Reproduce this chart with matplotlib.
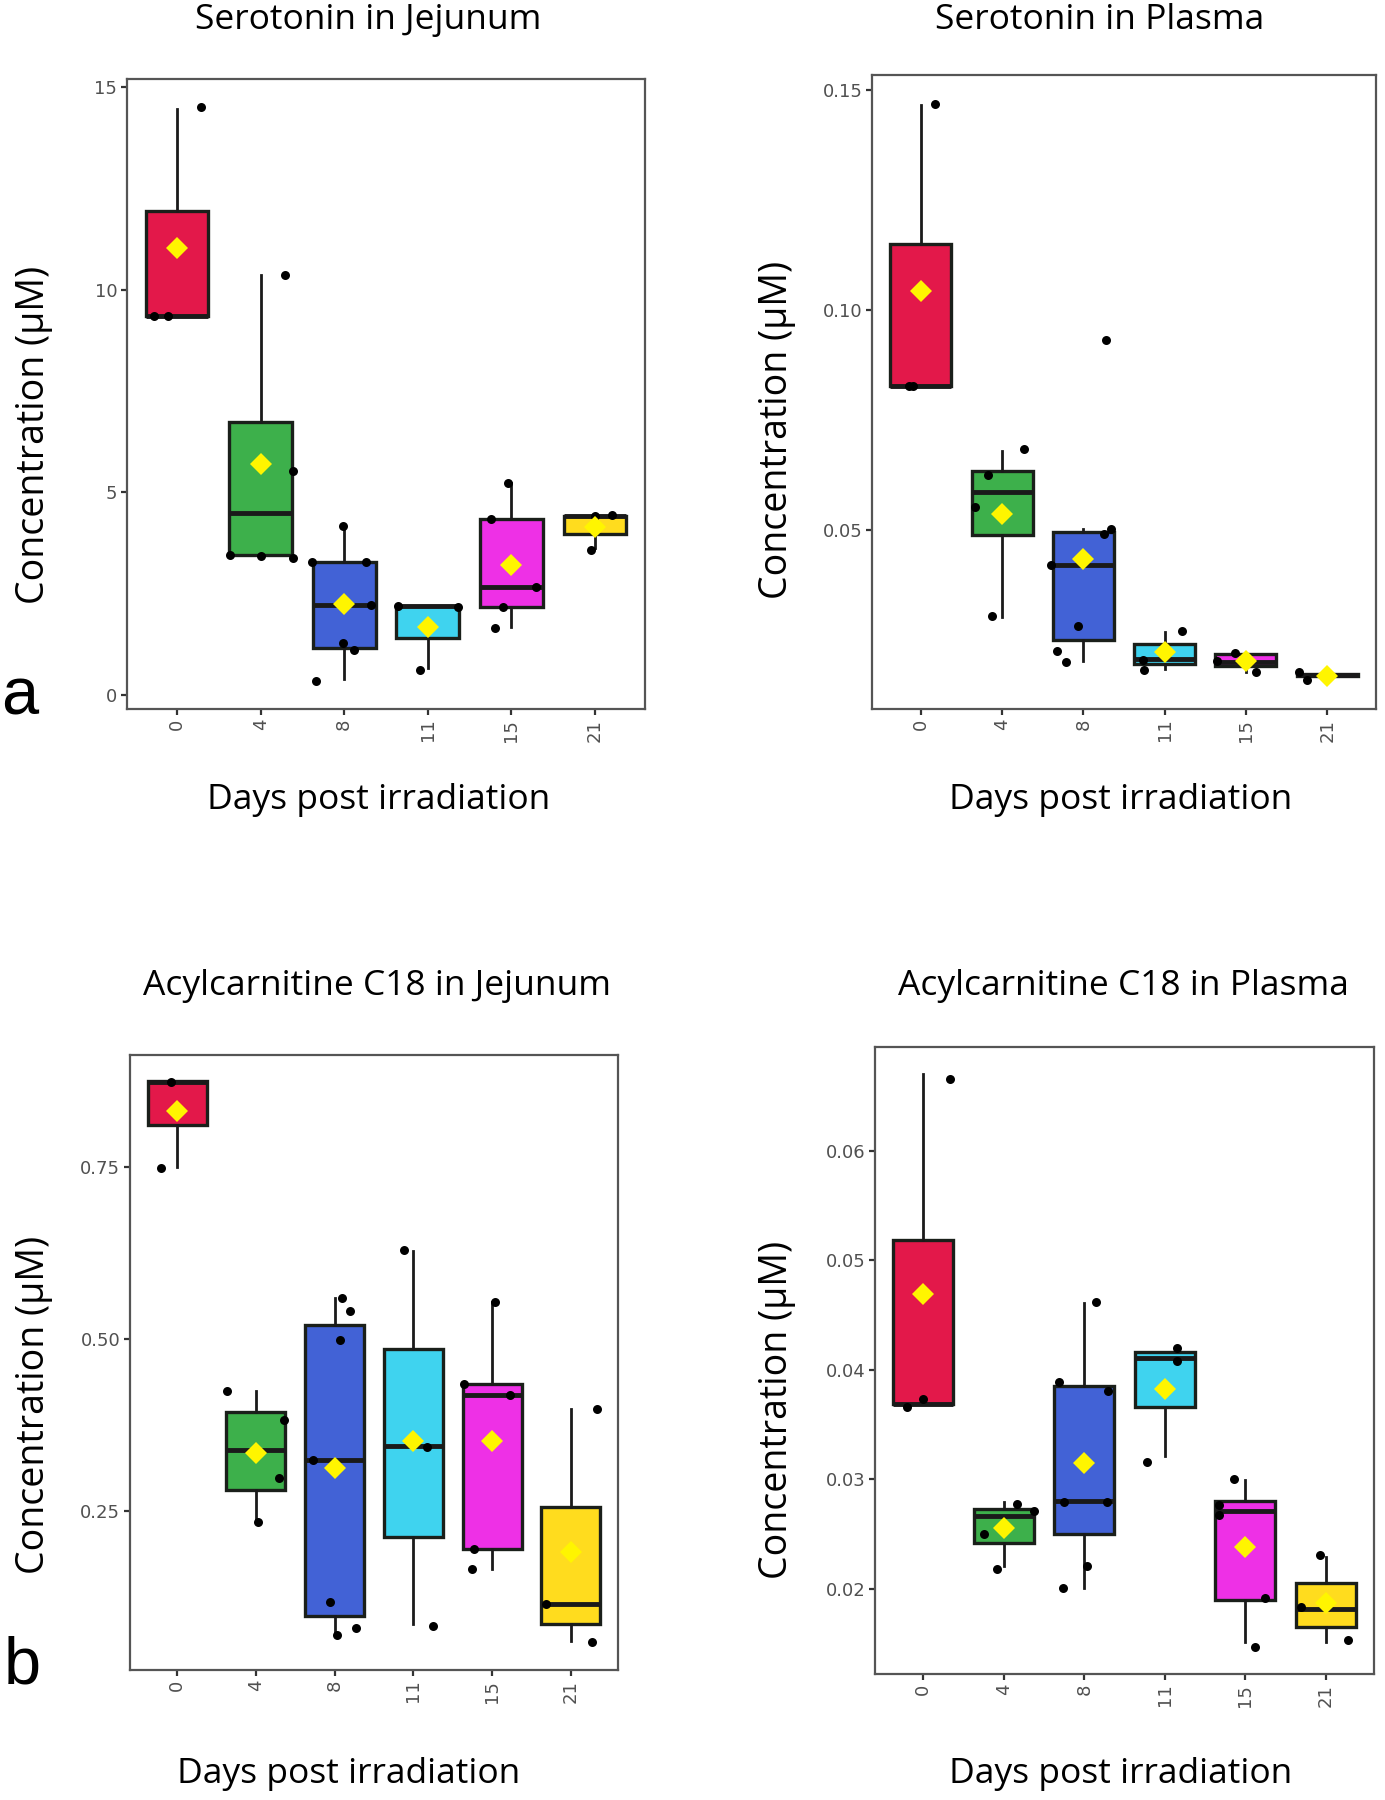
import numpy as np
import matplotlib
matplotlib.use("Agg")
import matplotlib.pyplot as plt

days = ['0', '4', '8', '11', '15', '21']
box_colors = ['#E3184A', '#3DB04B', '#4262D6', '#3FD3EF', '#EE30E6', '#FFDC1E']

# box stats per day: (lower whisker, q1, median, q3, upper whisker)
sero_jej_box = [(9.34, 9.34, 9.34, 11.95, 14.47), (3.40, 3.44, 4.50, 6.74, 10.36),
                (0.39, 1.16, 2.21, 3.27, 4.16), (0.65, 1.40, 2.20, 2.20, 2.20),
                (1.68, 2.17, 2.67, 4.35, 5.23), (3.62, 3.98, 4.42, 4.42, 4.44)]
sero_jej_mean = [11.03, 5.70, 2.24, 1.68, 3.20, 4.13]
sero_jej_pts = [[9.34, 9.34, 14.5], [3.46, 3.42, 3.38, 5.53, 10.37],
                [0.35, 3.27, 3.27, 2.21, 1.29, 1.10, 4.16], [2.20, 2.17, 0.62],
                [4.35, 5.23, 2.67, 2.17, 1.65], [3.57, 4.42, 4.44]]
sero_jej_jit = [[-0.28, -0.11, 0.29], [-0.37, 0.0, 0.39, 0.39, 0.29],
                [-0.335, -0.39, 0.26, 0.32, -0.02, 0.12, -0.02], [-0.36, 0.36, -0.09],
                [-0.245, -0.04, 0.29, -0.1, -0.2], [-0.05, 0.0, 0.21]]

sero_pla_box = [(0.0827, 0.0827, 0.0827, 0.115, 0.1467), (0.0302, 0.0488, 0.0586, 0.0633, 0.0679),
                (0.0202, 0.025, 0.042, 0.0495, 0.0502), (0.0184, 0.0195, 0.0206, 0.0241, 0.0267),
                (0.0176, 0.0191, 0.0200, 0.0218, 0.0219), (0.0168, 0.0168, 0.0170, 0.0172, 0.0172)]
sero_pla_mean = [0.1043, 0.0536, 0.0433, 0.0221, 0.0202, 0.0166]
sero_pla_pts = [[0.0827, 0.0827, 0.147], [0.0683, 0.0624, 0.0552, 0.0304],
                [0.0931, 0.0502, 0.049, 0.0419, 0.028, 0.0223, 0.0199], [0.0269, 0.0204, 0.0180],
                [0.0219, 0.0202, 0.0176], [0.0176, 0.0157]]
sero_pla_jit = [[-0.15, -0.10, 0.18], [0.27, -0.17, -0.33, -0.12],
                [0.28, 0.34, 0.26, -0.40, -0.06, -0.33, -0.21], [0.21, -0.27, -0.25],
                [-0.14, -0.35, 0.12], [-0.35, -0.25]]

acyl_jej_box = [(0.75, 0.8115, 0.873, 0.8746, 0.8746), (0.234, 0.280, 0.339, 0.394, 0.424),
                (0.069, 0.0967, 0.324, 0.520, 0.560), (0.085, 0.212, 0.344, 0.486, 0.628),
                (0.165, 0.195, 0.418, 0.434, 0.554), (0.061, 0.086, 0.114, 0.256, 0.398)]
acyl_jej_mean = [0.8315, 0.334, 0.312, 0.352, 0.352, 0.190]
acyl_jej_pts = [[0.873, 0.748], [0.424, 0.382, 0.297, 0.234],
                [0.560, 0.540, 0.498, 0.324, 0.117, 0.069, 0.079], [0.629, 0.343, 0.082],
                [0.554, 0.434, 0.418, 0.195, 0.165], [0.398, 0.114, 0.059]]
acyl_jej_jit = [[-0.08, -0.20], [-0.37, 0.36, 0.29, 0.02],
                [0.09, 0.2, 0.07, -0.27, -0.06, 0.03, 0.27], [-0.12, 0.17, 0.25],
                [0.04, -0.36, 0.23, -0.23, -0.25], [0.33, -0.32, 0.27]]

acyl_pla_box = [(0.0369, 0.0369, 0.0369, 0.0519, 0.0670), (0.0221, 0.0242, 0.0266, 0.0273, 0.0279),
                (0.0201, 0.0250, 0.0280, 0.0385, 0.0461), (0.0321, 0.0366, 0.0411, 0.0416, 0.0416),
                (0.0151, 0.0190, 0.0271, 0.0280, 0.0299), (0.0151, 0.0165, 0.0181, 0.0205, 0.0229)]
acyl_pla_mean = [0.0469, 0.0255, 0.0315, 0.0382, 0.0238, 0.0187]
acyl_pla_pts = [[0.0666, 0.0373, 0.0366], [0.0277, 0.0271, 0.0250, 0.0218],
                [0.0462, 0.0389, 0.0381, 0.0279, 0.0279, 0.0221, 0.0201], [0.0420, 0.0408, 0.0316],
                [0.0300, 0.0276, 0.0267, 0.0191, 0.0147], [0.0231, 0.0183, 0.0153]]
acyl_pla_jit = [[0.33, 0.0, -0.2], [0.16, 0.37, -0.25, -0.08],
                [0.14, -0.31, 0.30, -0.25, 0.28, 0.03, -0.27], [0.15, 0.15, -0.22],
                [-0.14, -0.33, -0.33, 0.24, 0.12], [-0.07, -0.31, 0.28]]

label_font = 'Open Sans'
W, H = 1385, 1800


def draw_panel(rect, box, means, pts, jit, yticks, ylabels, ylim, title, title_xy, xlab_xy, ylab_xy):
    l, r, t, b = rect
    ax = fig.add_axes([l / W, 1 - b / H, (r - l) / W, (b - t) / H])
    pos = np.arange(1, len(days) + 1)
    stats = []
    for i, (lo, q1, med, q3, hi) in enumerate(box):
        stats.append({'whislo': lo, 'q1': q1, 'med': med, 'q3': q3, 'whishi': hi,
                      'mean': means[i], 'fliers': []})
    bp = ax.bxp(stats, positions=pos, widths=0.75, patch_artist=True, showcaps=False,
                showfliers=False, showmeans=False,
                boxprops=dict(edgecolor='#1a1f1a', linewidth=2.4),
                whiskerprops=dict(color='#1a1a1a', linewidth=2),
                medianprops=dict(color='#1a1a1a', linewidth=3.5))
    for patch, c in zip(bp['boxes'], box_colors):
        patch.set_facecolor(c)
    for i in range(len(days)):
        ax.scatter(pos[i] + np.array(jit[i]), pts[i], s=42, color='black', zorder=4, linewidths=0)
    ax.plot(pos, means, 'D', color='#FFF500', markersize=11, markeredgewidth=0, zorder=5, linestyle='none')

    ax.set_xlim(0.4, 6.6)
    ax.set_ylim(*ylim)
    ax.set_xticks(pos)
    ax.set_xticklabels(days, rotation=90, fontsize=13, color='#505050', family='DejaVu Sans')
    ax.set_yticks(yticks)
    ax.set_yticklabels(ylabels, fontsize=13, color='#505050', family='DejaVu Sans')
    ax.tick_params(length=4, width=1.6, color='#333333', pad=3)
    for s in ax.spines.values():
        s.set_color('#555555')
        s.set_linewidth(1.6)

    fig.text(title_xy[0] / W, 1 - title_xy[1] / H, title, ha='center', va='center',
             fontsize=25.5, family=label_font)
    fig.text(xlab_xy[0] / W, 1 - xlab_xy[1] / H, 'Days post irradiation', ha='center', va='center',
             fontsize=25.5, family=label_font)
    fig.text(ylab_xy[0] / W, 1 - ylab_xy[1] / H, 'Concentration (μM)', ha='center', va='center',
             fontsize=27, family=label_font, rotation=90)
    return ax


fig = plt.figure(figsize=(13.85, 18), dpi=100)

draw_panel((127, 645, 79, 709), sero_jej_box, sero_jej_mean, sero_jej_pts, sero_jej_jit,
           [0, 5, 10, 15], ['0', '5', '10', '15'], (-0.35, 15.2),
           'Serotonin in Jejunum', (368, 20), (379, 800), (34, 435))
draw_panel((872, 1376, 75, 709), sero_pla_box, sero_pla_mean, sero_pla_pts, sero_pla_jit,
           [0.05, 0.10, 0.15], ['0.05', '0.10', '0.15'], (0.0092, 0.1535),
           'Serotonin in Plasma', (1100, 20), (1121, 800), (777, 430))
draw_panel((130, 618, 1055, 1670), acyl_jej_box, acyl_jej_mean, acyl_jej_pts, acyl_jej_jit,
           [0.25, 0.50, 0.75], ['0.25', '0.50', '0.75'], (0.0184, 0.913),
           'Acylcarnitine C18 in Jejunum', (377, 986), (349, 1774), (34, 1405))
draw_panel((875, 1374, 1047, 1674), acyl_pla_box, acyl_pla_mean, acyl_pla_pts, acyl_pla_jit,
           [0.02, 0.03, 0.04, 0.05, 0.06], ['0.02', '0.03', '0.04', '0.05', '0.06'], (0.0122, 0.0695),
           'Acylcarnitine C18 in Plasma', (1123, 986), (1121, 1774), (777, 1410))

fig.text(20 / W, 1 - 715 / H, 'a', fontsize=48, family='Liberation Sans', ha='center', va='baseline')
fig.text(22 / W, 1 - 1683 / H, 'b', fontsize=48, family='Liberation Sans', ha='center', va='baseline')

fig.savefig('out.png', dpi=100)
